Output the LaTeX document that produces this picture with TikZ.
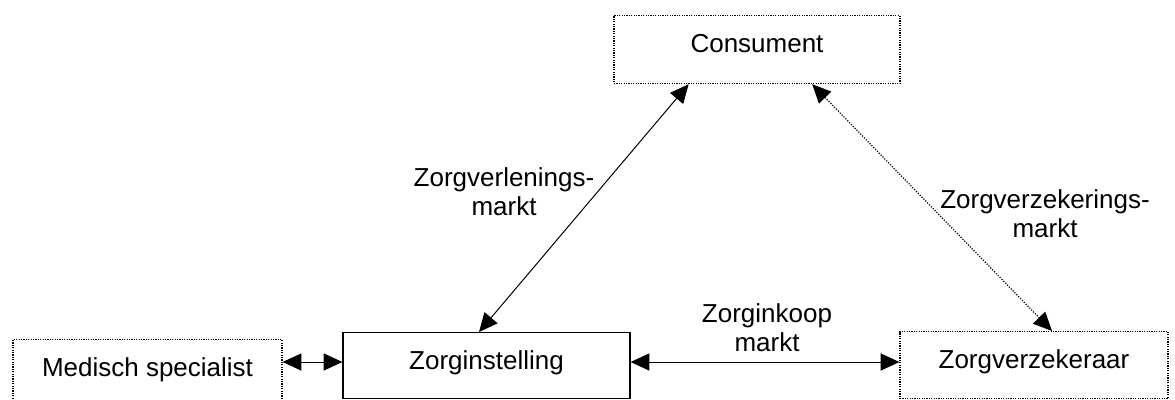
\documentclass[tikz,border=0pt]{standalone}
\usepackage{fontspec}
\setmainfont{Liberation Sans}
\usetikzlibrary{arrows.meta,calc}
\tikzset{every picture/.style={line width=0.75pt}}

\begin{document}
\begin{tikzpicture}[x=0.75pt,y=0.75pt,yscale=-1,xscale=1,
    font=\fontsize{19.5pt}{21.75pt}\selectfont,
    frame/.style={draw, inner xsep=0pt, inner ysep=0pt, text height=27.75pt, anchor=north},
    dotframe/.style={frame, line width=0.9pt, dash pattern=on 0.9pt off 0.9pt},
    biarrow/.style={{Triangle[length=14pt,width=12.75pt]}-{Triangle[length=14pt,width=12.75pt]}},
    marketlabel/.style={inner sep=0pt, align=center}]
        \useasboundingbox (0,0) rectangle (1175,400);

        %Shape: Rectangle [id:cons]
        \node [dotframe, minimum width=214.5pt, text depth=23.25pt] (cons) at (757,15) {Consument};
        %Shape: Rectangle [id:medspec]
        \node [dotframe, minimum width=201.75pt, text depth=20.25pt] (medspec) at (147.5,339) {Medisch specialist};
        %Shape: Rectangle [id:zinst]
        \node [frame, line width=0.9pt, minimum width=215.25pt, text depth=21.75pt] (zinst) at (486.5,332) {Zorginstelling};
        %Shape: Rectangle [id:zverz]
        \node [dotframe, minimum width=201pt, text depth=22.5pt] (zverz) at (1034,331) {Zorgverzekeraar};

        \coordinate (hline) at (0,362);

        %Straight Lines
        \draw [biarrow] ($(cons.south west)!0.262!(cons.south east)$) -- ($(zinst.north west)!0.474!(zinst.north east)$);
        \draw [biarrow, line width=0.9pt, dash pattern=on 0.9pt off 1.1pt] ($(cons.south west)!0.692!(cons.south east)$) -- ($(zverz.north west)!0.567!(zverz.north east)$);
        \draw [biarrow] (medspec.east |- hline) -- (zinst.west |- hline);
        \draw [biarrow] (zinst.east |- hline) -- (zverz.west |- hline);

        % Text Node
        \node [marketlabel] (verlening) at (504,191.5) {Zorgverlenings-\\markt};
        % Text Node
        \node [marketlabel] (verzekering) at (1045,213.5) {Zorgverzekerings-\\markt};
        % Text Node
        \node [marketlabel] (inkoop) at (767,328) {Zorginkoop\\markt};
\end{tikzpicture}
\end{document}
